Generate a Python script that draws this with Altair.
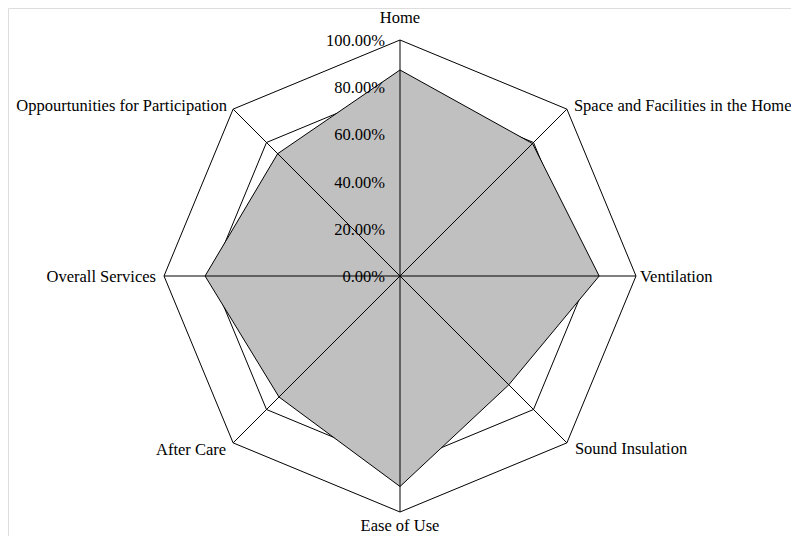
import altair as alt
import pandas as pd

categories = ["Home", "Space and Facilities in the Home", "Ventilation",
              "Sound Insulation", "Ease of Use", "After Care",
              "Overall Services", "Oppourtunities for Participation"]
values = [0.873, 0.794, 0.844, 0.652, 0.892, 0.725, 0.826, 0.733]
tick_values = [0.0, 0.2, 0.4, 0.6, 0.8, 1.0]
tick_labels = ["0.00%", "20.00%", "40.00%", "60.00%", "80.00%", "100.00%"]

N = len(categories)
W, H = 783, 528
CX, CY, R = 392, 268, 236
xdom = [-CX / R, (W - CX) / R]
ydom = [-(H - CY) / R, CY / R]
xs = alt.Scale(domain=xdom, nice=False, zero=False)
ys = alt.Scale(domain=ydom, nice=False, zero=False)
FONT = "Liberation Serif"
FS = 16.5


def xy(df):
    return (alt.Chart(df)
            .transform_calculate(ang=f"2*PI*datum.idx/{N}")
            .transform_calculate(px="datum.value*sin(datum.ang)",
                                 py="datum.value*cos(datum.ang)"))


# grid octagons
grid_rows = []
for lv in tick_values[1:]:
    for i in range(N + 1):
        grid_rows.append({"level": lv, "idx": i, "value": lv})
grid_df = pd.DataFrame(grid_rows)
grid = xy(grid_df).mark_line(color="black", strokeWidth=1).encode(
    x=alt.X("px:Q", scale=xs, axis=None),
    y=alt.Y("py:Q", scale=ys, axis=None),
    detail="level:N",
    order="idx:Q",
)

# data polygon
poly_df = pd.DataFrame({"idx": list(range(N + 1)),
                        "value": [values[i % N] for i in range(N + 1)]})
poly = xy(poly_df).mark_line(color="black", stroke="black", fill="#c0c0c0",
                             strokeWidth=1).encode(
    x=alt.X("px:Q", scale=xs, axis=None),
    y=alt.Y("py:Q", scale=ys, axis=None),
    order="idx:Q",
)

# spokes
spoke_df = pd.DataFrame({"idx": list(range(N)), "value": [1.0] * N, "zero": [0.0] * N})
spokes = xy(spoke_df).mark_rule(color="black", strokeWidth=1).encode(
    x=alt.X("zero:Q", scale=xs, axis=None),
    y=alt.Y("zero:Q", scale=ys, axis=None),
    x2="px:Q",
    y2="py:Q",
)

# tick labels
tick_df = pd.DataFrame({"v": tick_values, "label": tick_labels, "zero": [0.0] * len(tick_values)})
ticks = alt.Chart(tick_df).mark_text(align="right", baseline="alphabetic", dx=-15, dy=6,
                                    font=FONT, fontSize=FS, color="black").encode(
    x=alt.X("zero:Q", scale=xs, axis=None),
    y=alt.Y("v:Q", scale=ys, axis=None),
    text="label:N",
)

# category labels
offsets = [("center", 0, -17), ("left", 7, 2), ("left", 4, 6), ("left", 8, 11),
           ("center", 0, 19), ("right", -7, 12), ("right", -8, 6), ("right", -6, 2)]
lab_df = pd.DataFrame({"idx": list(range(N)), "value": [1.0] * N, "cat": categories})
labels = []
for i, (al, dx, dy) in enumerate(offsets):
    labels.append(
        xy(lab_df).transform_filter(f"datum.idx == {i}")
        .mark_text(align=al, baseline="alphabetic", dx=dx, dy=dy,
                   font=FONT, fontSize=FS, color="black")
        .encode(x=alt.X("px:Q", scale=xs, axis=None),
                y=alt.Y("py:Q", scale=ys, axis=None),
                text="cat:N")
    )

chart = alt.layer(grid, poly, spokes, ticks, *labels).properties(
    width=W, height=H, padding=0, autosize="none",
).configure_view(stroke=None).configure(background="white")

chart.save("out.html", embed_options={"renderer": "svg", "actions": False})
